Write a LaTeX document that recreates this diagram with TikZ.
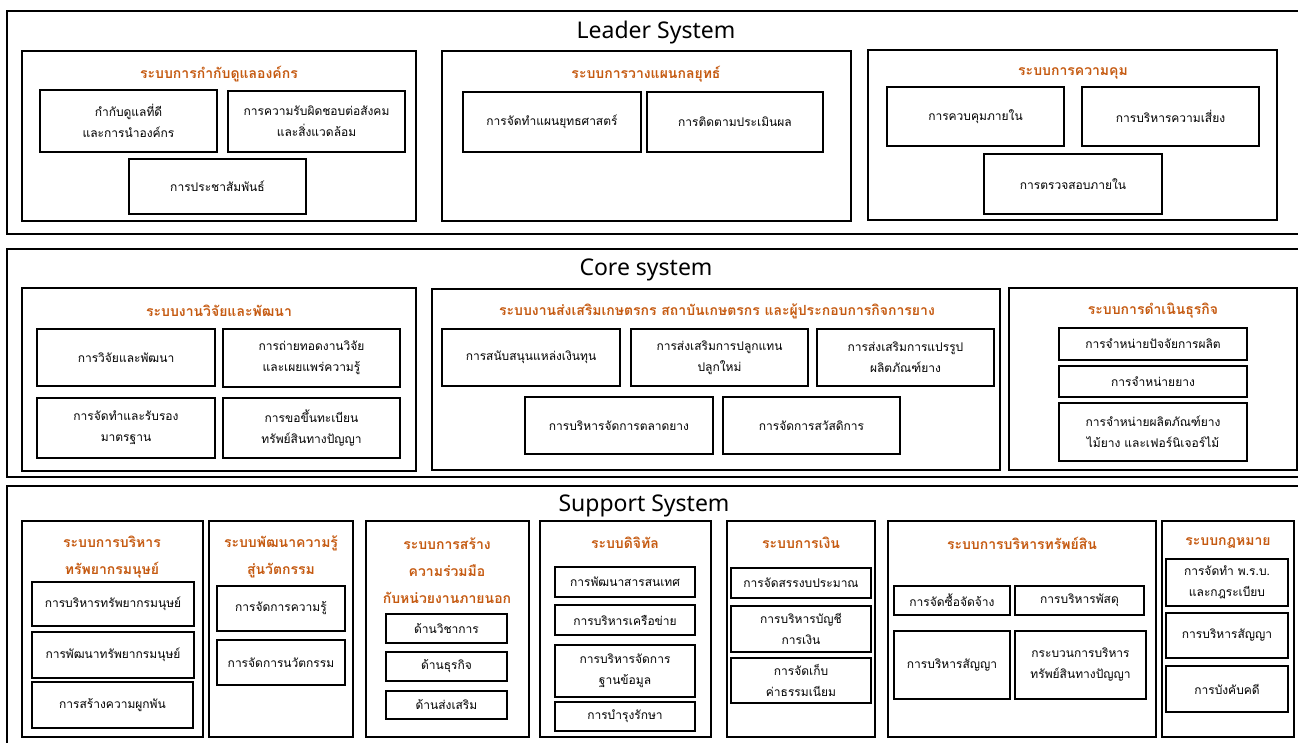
\documentclass[tikz,border=0pt]{standalone}
\usepackage{fontspec}
\setmainfont[Script=Thai]{Loma}
\newfontfamily\latinf{Noto Sans}
\definecolor{ttlc}{HTML}{C55A11}
\newcommand\bx[7][inbox]{\node[#1, minimum width={#5-#3}, minimum height={#6-#4}] (#2) at ({(#3+#5)/2},{(#4+#6)/2}) {#7};}
\begin{document}
\begin{tikzpicture}[x=1pt,y=-1pt,
  sect/.style={draw, line width=1.4pt, inner sep=0pt, outer sep=0pt},
  grp/.style={draw, line width=1.3pt, inner sep=0pt, outer sep=0pt},
  inbox/.style={draw, line width=1.7pt, inner sep=0pt, outer sep=0pt, align=center, font=\fontsize{12}{21}\selectfont},
  ttl/.style={text=ttlc, align=center, font=\bfseries\fontsize{14}{27}\selectfont},
  big/.style={font=\latinf\fontsize{23}{28}\selectfont}]
\useasboundingbox (0,0) rectangle (1298,742);
% ---------- Leader ----------
\bx[sect]{leader}{7}{11}{1302}{234}{}
\node[big] (leadert) at (656,33) {Leader System};
\bx[grp]{g1}{22}{51}{416}{221}{}
\node[ttl] (g1t) at (219,74) {ระบบการกำกับดูแลองค์กร};
\bx{g1a}{40}{90}{217}{152}{กำกับดูแลที่ดี\\และการนำองค์กร}
\bx{g1b}{228}{91}{405}{152}{การความรับผิดชอบต่อสังคม\\และสิ่งแวดล้อม}
\bx{g1c}{129}{159}{306}{214}{การประชาสัมพันธ์}
\bx[grp]{g2}{442}{51}{851}{221}{}
\node[ttl] (g2t) at (646,74) {ระบบการวางแผนกลยุทธ์};
\bx{g2a}{463}{92}{641}{152}{การจัดทำแผนยุทธศาสตร์}
\bx{g2b}{647}{92}{823}{152}{การติดตามประเมินผล}
\bx[grp]{g3}{868}{50}{1277}{220}{}
\node[ttl] (g3t) at (1073,73) {ระบบการความคุม};
\bx{g3a}{887}{87}{1064}{146}{การควบคุมภายใน}
\bx{g3b}{1082}{87}{1259}{146}{การบริหารความเสี่ยง}
\bx{g3c}{984}{154}{1162}{214}{การตรวจสอบภายใน}
% ---------- Core ----------
\bx[sect]{core}{7}{249}{1302}{477}{}
\node[big] (coret) at (646,270) {Core system};
\bx[grp]{c1}{22}{288}{416}{471}{}
\node[ttl] (c1t) at (219,311) {ระบบงานวิจัยและพัฒนา};
\bx{c1a}{37}{329}{215}{386}{การวิจัยและพัฒนา}
\bx{c1b}{223}{329}{400}{387}{การถ่ายทอดงานวิจัย\\และเผยแพร่ความรู้}
\bx{c1c}{37}{398}{215}{458}{การจัดทำและรับรอง\\มาตรฐาน}
\bx{c1d}{223}{398}{400}{458}{การขอขึ้นทะเบียน\\ทรัพย์สินทางปัญญา}
\bx[grp]{c2}{432}{289}{1000}{470}{}
\node[ttl] (c2t) at (717,311) {ระบบงานส่งเสริมเกษตรกร สถาบันเกษตรกร และผู้ประกอบการกิจการยาง};
\bx{c2a}{442}{329}{620}{386}{การสนับสนุนแหล่งเงินทุน}
\bx{c2b}{631}{329}{808}{386}{การส่งเสริมการปลูกแทน\\ปลูกใหม่}
\bx{c2c}{817}{329}{994}{386}{การส่งเสริมการแปรรูป\\ผลิตภัณฑ์ยาง}
\bx{c2d}{525}{397}{713}{454}{การบริหารจัดการตลาดยาง}
\bx{c2e}{723}{397}{900}{454}{การจัดการสวัสดิการ}
\bx[grp]{c3}{1009}{288}{1297}{470}{}
\node[ttl] (c3t) at (1153,311) {ระบบการดำเนินธุรกิจ};
\bx{c3a}{1059}{328}{1247}{360}{การจำหน่ายปัจจัยการผลิต}
\bx{c3b}{1059}{366}{1247}{397}{การจำหน่ายยาง}
\bx{c3c}{1059}{403}{1247}{461}{การจำหน่ายผลิตภัณฑ์ยาง\\ไม้ยาง และเฟอร์นิเจอร์ไม้}
% ---------- Support ----------
\bx[sect]{sup}{7}{486}{1302}{752}{}
\node[big] (supt) at (644,506) {Support System};
\bx[grp]{s1}{22}{521}{203}{737}{}
\node[ttl] (s1t) at (112,557) {ระบบการบริหาร\\ทรัพยากรมนุษย์};
\bx{s1a}{32}{582}{194}{626}{การบริหารทรัพยากรมนุษย์}
\bx{s1b}{32}{632}{194}{678}{การพัฒนาทรัพยากรมนุษย์}
\bx{s1c}{32}{682}{193}{728}{การสร้างความผูกพัน}
\bx[grp]{s2}{209}{521}{353}{737}{}
\node[ttl] (s2t) at (281,557) {ระบบพัฒนาความรู้\\สู่นวัตกรรม};
\bx{s2a}{217}{586}{345}{631}{การจัดการความรู้}
\bx{s2b}{217}{640}{345}{685}{การจัดการนวัตกรรม}
\bx[grp]{s3}{366}{521}{529}{737}{}
\node[ttl] (s3t) at (447,571) {ระบบการสร้าง\\ความร่วมมือ\\กับหน่วยงานภายนอก};
\bx{s3a}{386}{614}{507}{643}{ด้านวิชาการ}
\bx{s3b}{386}{652}{507}{681}{ด้านธุรกิจ}
\bx{s3c}{386}{691}{507}{719}{ด้านส่งเสริม}
\bx[grp]{s4}{540}{521}{711}{737}{}
\node[ttl] (s4t) at (625,543) {ระบบดิจิทัล};
\bx{s4a}{555}{567}{695}{597}{การพัฒนาสารสนเทศ}
\bx{s4b}{555}{605}{695}{635}{การบริหารเครือข่าย}
\bx{s4c}{555}{645}{695}{697}{การบริหารจัดการ\\ฐานข้อมูล}
\bx{s4d}{555}{702}{695}{731}{การบำรุงรักษา}
\bx[grp]{s5}{727}{521}{875}{737}{}
\node[ttl] (s5t) at (801,543) {ระบบการเงิน};
\bx{s5a}{731}{568}{871}{598}{การจัดสรรงบประมาณ}
\bx{s5b}{731}{606}{871}{652}{การบริหารบัญชี\\การเงิน}
\bx{s5c}{731}{658}{871}{703}{การจัดเก็บ\\ค่าธรรมเนียม}
\bx[grp]{s6}{888}{521}{1156}{737}{}
\node[ttl] (s6t) at (1022,543) {ระบบการบริหารทรัพย์สิน};
\bx{s6a}{894}{586}{1010}{615}{การจัดซื้อจัดจ้าง}
\bx{s6b}{1015}{586}{1144}{615}{การบริหารพัสดุ}
\bx{s6c}{894}{631}{1010}{699}{การบริหารสัญญา}
\bx{s6d}{1015}{631}{1146}{699}{กระบวนการบริหาร\\ทรัพย์สินทางปัญญา}
\bx[grp]{s7}{1162}{521}{1294}{737}{}
\node[ttl] (s7t) at (1228,543) {ระบบกฎหมาย};
\bx{s7a}{1166}{559}{1288}{606}{การจัดทำ พ.ร.บ.\\และกฎระเบียบ}
\bx{s7b}{1166}{613}{1288}{658}{การบริหารสัญญา}
\bx{s7c}{1166}{666}{1288}{712}{การบังคับคดี}
\end{tikzpicture}
\end{document}
